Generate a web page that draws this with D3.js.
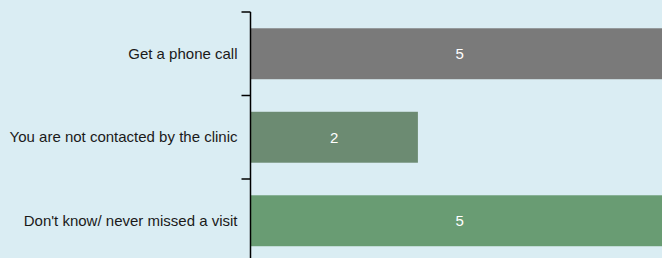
<!DOCTYPE html>
<html><head><meta charset="utf-8">
<script src="https://cdn.jsdelivr.net/npm/d3@7"></script>
<style>html,body{margin:0;padding:0;background:#daedf3;overflow:hidden}</style>
</head><body><svg id="c" width="662" height="258"></svg>
<script>
const categories = ["Get a phone call", "You are not contacted by the clinic", "Don't know/ never missed a visit"];
const values = [5, 2, 5];
const colors = ["#7a7a7a", "#6c8b72", "#699c73"];

const svg = d3.select("#c");
svg.append("rect").attr("width", 662).attr("height", 258).attr("fill", "#daedf3");
const x = d3.scaleLinear().domain([0, 5]).range([250.5, 669]);
const y = d3.scaleBand().domain(categories).range([12, 262.5]).paddingInner(0.39).paddingOuter(0.195);

const g = svg.append("g");
g.selectAll("rect.bar").data(categories).join("rect")
  .attr("class", "bar")
  .attr("x", x(0)).attr("y", d => y(d))
  .attr("width", (d, i) => x(values[i]) - x(0))
  .attr("height", y.bandwidth())
  .attr("fill", (d, i) => colors[i]);

g.selectAll("text.val").data(categories).join("text")
  .attr("class", "val")
  .attr("x", (d, i) => (x(0) + x(values[i])) / 2)
  .attr("y", d => y(d) + y.bandwidth() / 2)
  .attr("dy", "0.35em").attr("text-anchor", "middle")
  .attr("fill", "#ffffff").attr("font-family", "Liberation Sans, Arial, sans-serif").attr("font-size", 15)
  .text((d, i) => values[i]);

// labels
const ax = svg.append("g").attr("transform", `translate(${x(0)},0)`)
  .call(d3.axisLeft(y).tickSize(0).tickPadding(13));
ax.select(".domain").remove();
ax.selectAll("text").attr("font-family", "Liberation Sans, Arial, sans-serif").attr("font-size", 15).attr("fill", "#1a1a1a");

// domain line and boundary ticks
const step = y.step();
const bounds = categories.map(d => y(d) - y.paddingOuter() * step);
const tg = svg.append("g").attr("transform", `translate(${x(0)},0)`);
tg.append("line").attr("x1", 0).attr("x2", 0).attr("y1", bounds[0]).attr("y2", 262.5)
  .attr("stroke", "#000").attr("stroke-width", 1.5);
tg.selectAll("line.tk").data(bounds).join("line").attr("class", "tk")
  .attr("x1", -9).attr("x2", 0).attr("y1", d => d).attr("y2", d => d)
  .attr("stroke", "#000").attr("stroke-width", 1.5);
</script></body></html>
